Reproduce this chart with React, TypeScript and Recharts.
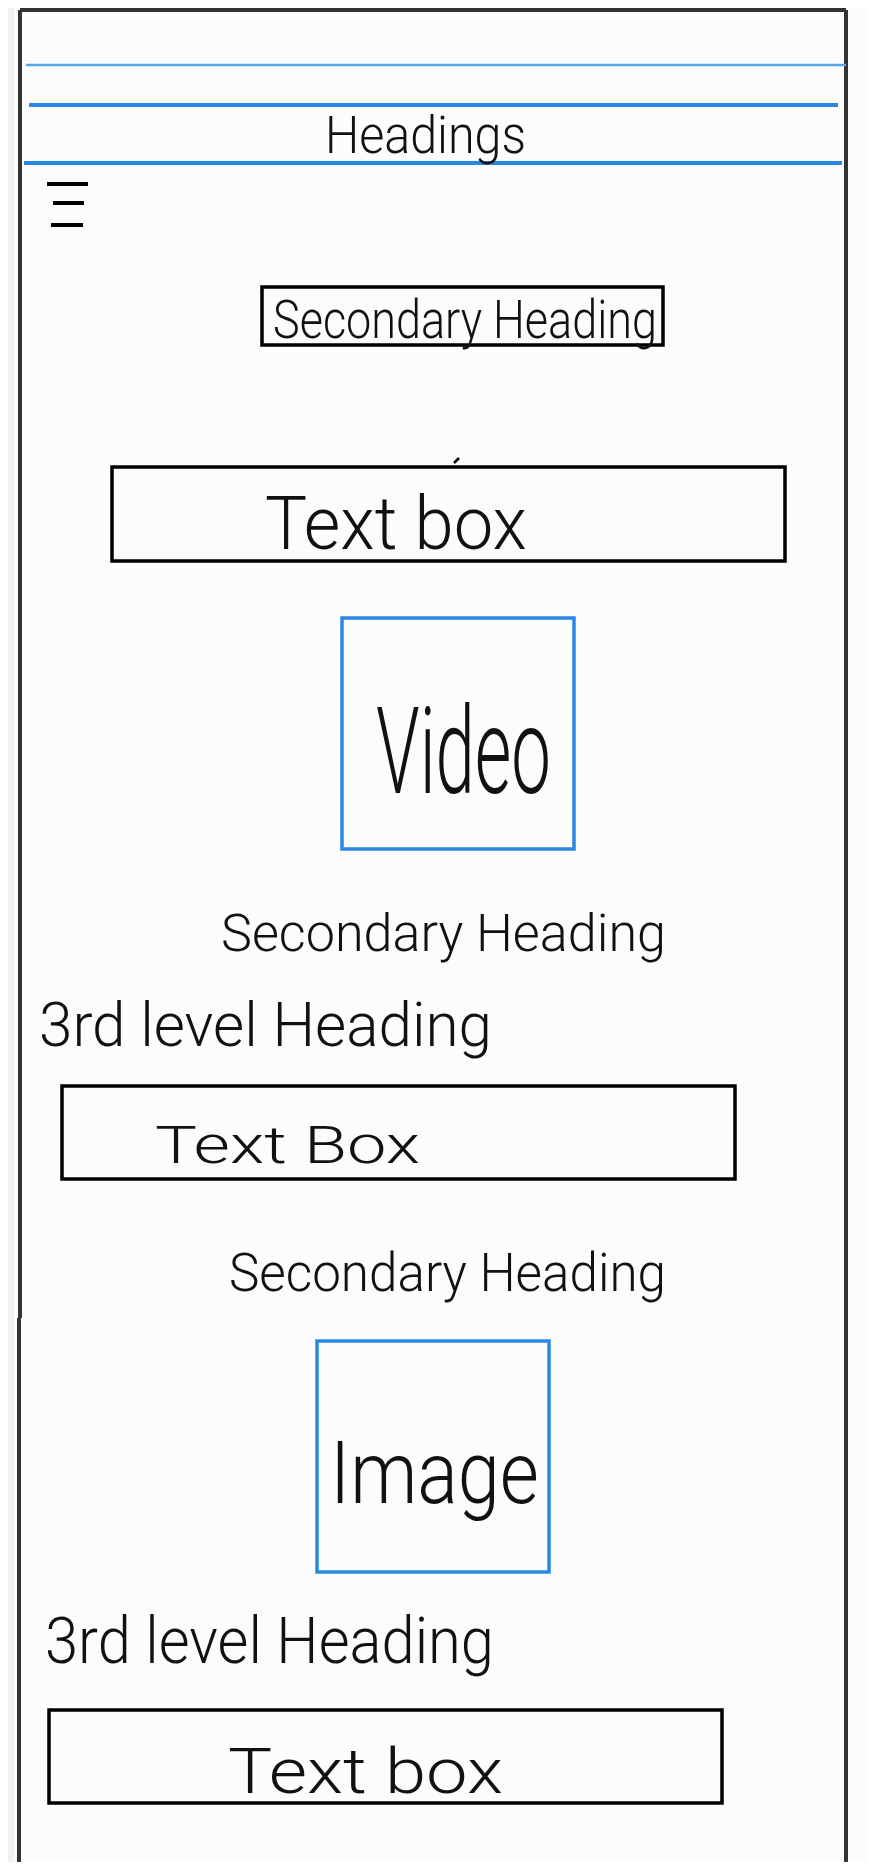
import React from 'react';
import {
  ComposedChart, XAxis, YAxis, Scatter, ReferenceArea, ReferenceLine,
} from 'recharts';

const W = 877;
const H = 1870;

// wireframe page, in page units (1 unit = 1px)
const frameSides = [
  { name: 'top', x1: 20, y1: 10, x2: 846, y2: 10 },
  { name: 'left-upper', x1: 20, y1: 10, x2: 20, y2: 1318 },
  { name: 'left-lower', x1: 19, y1: 1318, x2: 19, y2: 1870 },
  { name: 'right', x1: 846, y1: 10, x2: 846, y2: 1870 },
];

const headerRules = [
  { name: 'rule-1', x1: 26, y1: 65, x2: 846, y2: 65, heavy: false },
  { name: 'rule-2', x1: 29, y1: 105, x2: 838, y2: 105, heavy: true },
  { name: 'rule-3', x1: 24, y1: 163, x2: 842, y2: 163, heavy: true },
];

const menuBars = [
  { x1: 47, x2: 88, y: 184 },
  { x1: 53, x2: 84, y: 203 },
  { x1: 51, x2: 83, y: 225 },
];

// stray pen mark above the first text box
const strokes = [
  { x1: 454, y1: 463, x2: 459, y2: 458 },
];

const blackBoxes = [
  { name: 'secondary-heading', x1: 262, x2: 663, y1: 287, y2: 345 },
  { name: 'text-box-1', x1: 112, x2: 785, y1: 467, y2: 561 },
  { name: 'text-box-2', x1: 62, x2: 735, y1: 1086, y2: 1179 },
  { name: 'text-box-3', x1: 49, x2: 722, y1: 1710, y2: 1803 },
];

const mediaBoxes = [
  { name: 'video', x1: 342, x2: 574, y1: 618, y2: 849 },
  { name: 'image', x1: 317, x2: 549, y1: 1341, y2: 1572 },
];

// labels: left edge, right edge, cap top and baseline
const labels = [
  { label: 'Headings', x: 325, xEnd: 526, top: 116, y: 153 },
  { label: 'Secondary Heading', x: 273, xEnd: 657, top: 299, y: 338 },
  { label: 'Text box', x: 265, xEnd: 527, top: 496, y: 549 },
  { label: 'Video', x: 376, xEnd: 551, top: 706, y: 793 },
  { label: 'Secondary Heading', x: 221, xEnd: 666, top: 914, y: 951 },
  { label: '3rd level Heading', x: 39, xEnd: 492, top: 1002, y: 1046 },
  { label: 'Text Box', x: 155, xEnd: 420, top: 1126, y: 1163 },
  { label: 'Secondary Heading', x: 229, xEnd: 666, top: 1252, y: 1291 },
  { label: 'Image', x: 330, xEnd: 539, top: 1440, y: 1503 },
  { label: '3rd level Heading', x: 45, xEnd: 494, top: 1616, y: 1663 },
  { label: 'Text box', x: 228, xEnd: 503, top: 1748, y: 1793 },
];

const INK = '#111111';
const FRAME = '#333333';
const BLUE = '#2b88e2';

function LabelMark(props: any) {
  const { cx, cy, payload } = props;
  if (cx == null || cy == null) return null;
  const k = W / W; // page unit -> px
  const cap = (payload.y - payload.top) * k;
  return (
    <text
      x={cx}
      y={cy}
      fontSize={cap / 0.72}
      fontFamily="'Liberation Sans Narrow', Roboto, 'DejaVu Sans', sans-serif"
      fontWeight={300}
      fill={INK}
      textLength={(payload.xEnd - payload.x) * k}
      lengthAdjust="spacingAndGlyphs"
    >
      {payload.label}
    </text>
  );
}

export default function App() {
  return (
    <div style={{ margin: -8, width: W, height: H, background: '#fcfcfc' }}>
      <ComposedChart width={W} height={H} data={labels} margin={{ top: 0, right: 0, bottom: 0, left: 0 }}>
        <XAxis type="number" dataKey="x" domain={[0, W]} hide allowDataOverflow />
        <YAxis type="number" dataKey="y" domain={[0, H]} reversed hide allowDataOverflow />

        <ReferenceArea x1={0} x2={14} y1={0} y2={H} fill="#f0f0f0" fillOpacity={1} stroke="none" ifOverflow="visible" />

        {frameSides.map((s) => (
          <ReferenceLine
            key={s.name}
            segment={[{ x: s.x1, y: s.y1 }, { x: s.x2, y: s.y2 }]}
            stroke={FRAME}
            strokeWidth={4}
            ifOverflow="visible"
          />
        ))}

        {headerRules.map((r) => (
          <ReferenceLine
            key={r.name}
            segment={[{ x: r.x1, y: r.y1 }, { x: r.x2, y: r.y2 }]}
            stroke={r.heavy ? BLUE : '#5aa6ec'}
            strokeWidth={r.heavy ? 4 : 2.5}
            ifOverflow="visible"
          />
        ))}

        {menuBars.map((b, i) => (
          <ReferenceLine
            key={`menu-${i}`}
            segment={[{ x: b.x1, y: b.y }, { x: b.x2, y: b.y }]}
            stroke="#000"
            strokeWidth={4}
            ifOverflow="visible"
          />
        ))}

        {strokes.map((s, i) => (
          <ReferenceLine
            key={`stroke-${i}`}
            segment={[{ x: s.x1, y: s.y1 }, { x: s.x2, y: s.y2 }]}
            stroke="#000"
            strokeWidth={2.5}
            ifOverflow="visible"
          />
        ))}

        {blackBoxes.map((b) => (
          <ReferenceArea
            key={b.name}
            x1={b.x1} x2={b.x2} y1={b.y1} y2={b.y2}
            fill="none" stroke="#000" strokeWidth={3.5} fillOpacity={0}
            ifOverflow="visible"
          />
        ))}

        {mediaBoxes.map((b) => (
          <ReferenceArea
            key={b.name}
            x1={b.x1} x2={b.x2} y1={b.y1} y2={b.y2}
            fill="none" stroke={BLUE} strokeWidth={3.5} fillOpacity={0}
            ifOverflow="visible"
          />
        ))}

        <Scatter dataKey="y" shape={LabelMark} isAnimationActive={false} />
      </ComposedChart>
    </div>
  );
}
